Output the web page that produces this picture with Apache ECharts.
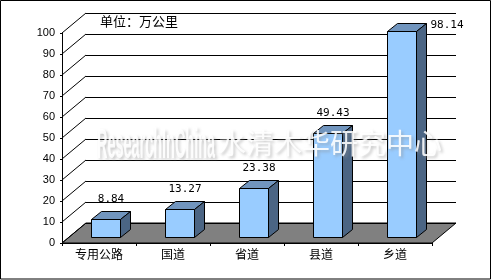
<!DOCTYPE html>
<html><head><meta charset="utf-8">
<script src="https://cdn.jsdelivr.net/npm/echarts@6/dist/echarts.min.js"></script>
<style>html,body{margin:0;padding:0;background:#fff}#c{width:494px;height:280px}</style>
</head><body><div id="c"></div>
<script>
const categories = ['专用公路', '国道', '省道', '县道', '乡道'];
const values = [8.84, 13.27, 23.38, 49.43, 98.14];
const yTicks = [0, 10, 20, 30, 40, 50, 60, 70, 80, 90, 100];
const unitTitle = '单位：万公里';
const wmLatin = 'ResearchInChina';
const wmChinese = '水清木华研究中心';

const DX = 24, DY = 20;           // depth of the 3D box
const FX = 6.7, FY = 5.7;         // bar front-face offset into depth
const BDX = 10, BDY = 8;          // bar depth
const BW = 29;                    // bar front width

const chart = echarts.init(document.getElementById('c'), null, {renderer: 'canvas'});

function r(v) { return Math.round(v) + 0.5; }

function measure(text, font) {
  const c = document.createElement('canvas').getContext('2d');
  c.font = font;
  return c.measureText(text).width;
}
const latinFont = 'bold 40px "Liberation Sans Narrow", "Liberation Sans", sans-serif';
const latinW = measure(wmLatin, latinFont) || 300;
const latinScale = 118 / latinW;
const wmStyle = {fill: 'rgba(255,255,255,0.88)', textShadowColor: 'rgba(140,140,140,0.55)', textShadowBlur: 3, textShadowOffsetX: 2, textShadowOffsetY: 2};

const option = {
  animation: false,
  backgroundColor: '#fff',
  grid: {left: 62, right: 62, top: 33, bottom: 37},
  xAxis: {
    type: 'category', data: categories,
    axisLine: {lineStyle: {color: '#000', width: 1}},
    axisTick: {show: true, length: 3, lineStyle: {color: '#000'}},
    axisLabel: {color: '#000', fontSize: 12, margin: 5, fontFamily: '"Noto Sans CJK SC", sans-serif'},
    splitLine: {show: false}
  },
  yAxis: {
    type: 'value', min: 0, max: 100, interval: 10,
    axisLine: {show: true, lineStyle: {color: '#000', width: 1}},
    axisTick: {show: true, length: 2, lineStyle: {color: '#000'}},
    axisLabel: {color: '#000', fontSize: 11, margin: 7, fontFamily: '"Liberation Sans", Arial, sans-serif'},
    splitLine: {show: false}
  },
  graphic: [
    {type: 'rect', shape: {x: 0.5, y: 0.5, width: 490, height: 278.5}, style: {fill: 'none', stroke: '#000', lineWidth: 1}, z: 0, silent: true},
    {type: 'text', left: 100, top: 15, style: {text: unitTitle, fill: '#000', font: '13px "Noto Sans CJK SC", sans-serif'}, z: 10},
    {type: 'text', x: 97, y: 124, scaleX: latinScale, scaleY: 1.08,
     style: Object.assign({text: wmLatin, font: latinFont}, wmStyle), z: 100, silent: true},
    {type: 'text', x: 218, y: 129,
     style: Object.assign({text: wmChinese, font: '28px "Noto Sans CJK SC", sans-serif'}, wmStyle), z: 100, silent: true}
  ],
  series: [
    {
      type: 'custom', name: 'frame', z: 1, silent: true,
      data: yTicks.map(v => [0, v]),
      encode: {x: 0, y: 1},
      renderItem: function (params, api) {
        const cs = params.coordSys;
        const v = api.value(1);
        const y = api.coord([0, v])[1];
        const x0 = cs.x, x1 = cs.x + cs.width;
        const children = [];
        const ls = {stroke: '#000', lineWidth: 1, fill: 'none'};
        if (v === 0) {
          children.push({type: 'polygon', shape: {points: [[x0, y], [x1, y], [x1 + DX, y - DY], [x0 + DX, y - DY]]},
            style: {fill: '#808080', stroke: '#000', lineWidth: 1}});
        }
        children.push({type: 'line', shape: {x1: x0 + DX, y1: r(y - DY), x2: x1 + DX, y2: r(y - DY)}, style: ls});
        children.push({type: 'line', shape: {x1: x0, y1: y, x2: x0 + DX, y2: y - DY}, style: ls});
        return {type: 'group', children: children};
      }
    },
    {
      type: 'custom', name: 'bars', z: 2,
      data: values.map((v, i) => [i, v]),
      encode: {x: 0, y: 1},
      renderItem: function (params, api) {
        const cs = params.coordSys;
        const i = api.value(0), v = api.value(1);
        const p = api.coord([i, v]), b = api.coord([i, 0]);
        const L = Math.round(p[0] + FX - BW / 2) + 0.5;
        const R = L + BW;
        const top = Math.round(p[1] - FY) + 0.5;
        const bot = Math.round(b[1] - FY) + 0.5;
        const edge = {stroke: '#000', lineWidth: 1};
        const children = [
          {type: 'polygon', shape: {points: [[L, top], [R, top], [R, bot], [L, bot]]}, style: Object.assign({fill: '#99CCFF'}, edge)},
          {type: 'polygon', shape: {points: [[L, top], [L + BDX, top - BDY], [R + BDX, top - BDY], [R, top]]}, style: Object.assign({fill: '#7195BE'}, edge)},
          {type: 'polygon', shape: {points: [[R, top], [R + BDX, top - BDY], [R + BDX, bot - BDY], [R, bot]]}, style: Object.assign({fill: '#4B6584'}, edge)}
        ];
        const txt = v.toFixed(2);
        const font = '11px "DejaVu Sans Mono", monospace';
        let ly = top - 20;
        if (ly < cs.y) {
          children.push({type: 'text', style: {text: txt, x: R + BDX + 4, y: top - 6, font: font, fill: '#000', align: 'left', verticalAlign: 'middle'}});
        } else {
          children.push({type: 'text', style: {text: txt, x: L + (BW + BDX) / 2, y: ly, font: font, fill: '#000', align: 'center', verticalAlign: 'middle'}});
        }
        return {type: 'group', children: children};
      }
    }
  ]
};
chart.setOption(option);
</script>
</body></html>
